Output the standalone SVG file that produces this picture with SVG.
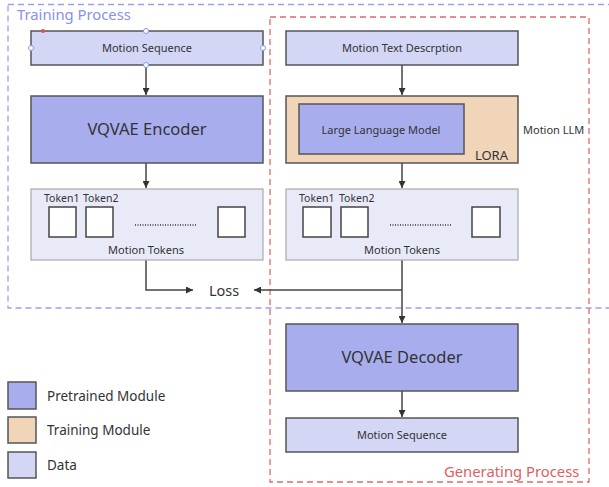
<svg xmlns="http://www.w3.org/2000/svg" width="609" height="487" viewBox="0 0 609 487">
<defs>
<marker id="ah" viewBox="0 0 10 10" refX="10" refY="5" markerWidth="7" markerHeight="7" orient="auto" markerUnits="userSpaceOnUse">
<path d="M0,0 L10,5 L0,10 z" fill="#333"/>
</marker>
<style>
text{font-family:"Noto Sans","Open Sans","DejaVu Sans",sans-serif;fill:#333;}
.data{fill:#d4d6f5;stroke:#555;stroke-width:1.5;}
.pre{fill:#a8aeed;stroke:#555;stroke-width:1.5;}
.train{fill:#f0d5b8;stroke:#555;stroke-width:1.5;}
.tok{fill:#e8eaf8;stroke:#aaa;stroke-width:1.2;}
.sq{fill:#fff;stroke:#444;stroke-width:1.5;}
.dots{stroke:#333;stroke-width:1.3;stroke-dasharray:1 1.5;}
.conn{stroke:#444;stroke-width:1.5;fill:none;}
.handle{fill:#fff;stroke:#7a9cf0;stroke-width:1;}
</style>
</defs>
<rect width="609" height="487" fill="#fff"/>
<g id="training-process">
<rect x="8" y="4.5" width="610" height="303.5" fill="none" stroke="#9a9ff2" stroke-width="1.3" stroke-dasharray="6 4"/>
<text x="17" y="20" font-size="14.8" style="fill:#8a90ee">Training Process</text>
</g>
<g id="generating-process">
<rect x="270" y="17" width="319" height="465" fill="none" stroke="#e06a6a" stroke-width="1.3" stroke-dasharray="6 4"/>
<text x="444" y="477" font-size="14.8" style="fill:#e06060">Generating Process</text>
</g>
<g id="connectors">
<line class="conn" x1="146" y1="65" x2="146" y2="95" marker-end="url(#ah)"/>
<line class="conn" x1="146" y1="163" x2="146" y2="188" marker-end="url(#ah)"/>
<polyline class="conn" points="146,260 146,290 193,290" marker-end="url(#ah)"/>
<line class="conn" x1="402" y1="65" x2="402" y2="95" marker-end="url(#ah)"/>
<line class="conn" x1="402" y1="163" x2="402" y2="188" marker-end="url(#ah)"/>
<line class="conn" x1="402" y1="260" x2="402" y2="323" marker-end="url(#ah)"/>
<line class="conn" x1="402" y1="290" x2="254" y2="290" marker-end="url(#ah)"/>
<line class="conn" x1="402" y1="391" x2="402" y2="417" marker-end="url(#ah)"/>
</g>
<g id="motion-sequence-in">
<rect class="data" x="31" y="31" width="232" height="34"/>
<text x="147" y="52" font-size="11" text-anchor="middle">Motion Sequence</text>
<circle class="handle" cx="146" cy="31" r="2.5"/>
<circle class="handle" cx="31" cy="48" r="2.5"/>
<circle class="handle" cx="263" cy="48" r="2.5"/>
<circle class="handle" cx="146" cy="65" r="2.5"/>
<circle cx="43" cy="31" r="2" fill="#e05050"/>
</g>
<g id="vqvae-encoder">
<rect class="pre" x="31" y="96" width="232" height="67"/>
<text x="147" y="135" font-size="16.5" text-anchor="middle">VQVAE Encoder</text>
</g>
<g id="motion-tokens-left">
<rect class="tok" x="31" y="189" width="232" height="71"/>
<text x="44" y="202" font-size="10.5">Token1</text>
<text x="83" y="202" font-size="10.5">Token2</text>
<rect class="sq" x="49" y="207" width="27" height="30"/>
<rect class="sq" x="86" y="207" width="27" height="30"/>
<rect class="sq" x="218" y="207" width="27" height="30"/>
<line class="dots" x1="135" y1="225" x2="196" y2="225"/>
<text x="146" y="254" font-size="11" text-anchor="middle">Motion Tokens</text>
</g>
<g id="loss">
<text x="209" y="296" font-size="14.5">Loss</text>
</g>
<g id="motion-text">
<rect class="data" x="286" y="31" width="232" height="34"/>
<text x="402" y="52" font-size="11" text-anchor="middle">Motion Text Descrption</text>
</g>
<g id="motion-llm">
<rect class="train" x="286" y="96" width="232" height="67"/>
<rect class="pre" x="299" y="104" width="165" height="50"/>
<text x="381" y="134" font-size="11" text-anchor="middle">Large Language Model</text>
<text x="508" y="160" font-size="13" text-anchor="end">LORA</text>
<text x="523" y="134" font-size="11">Motion LLM</text>
</g>
<g id="motion-tokens-right">
<rect class="tok" x="286" y="189" width="232" height="71"/>
<text x="299" y="202" font-size="10.5">Token1</text>
<text x="339" y="202" font-size="10.5">Token2</text>
<rect class="sq" x="303" y="207" width="28" height="30"/>
<rect class="sq" x="341" y="207" width="27" height="30"/>
<rect class="sq" x="472" y="207" width="28" height="30"/>
<line class="dots" x1="390" y1="225" x2="451" y2="225"/>
<text x="402" y="254" font-size="11" text-anchor="middle">Motion Tokens</text>
</g>
<g id="vqvae-decoder">
<rect class="pre" x="286" y="324" width="232" height="67"/>
<text x="402" y="363" font-size="16.5" text-anchor="middle">VQVAE Decoder</text>
</g>
<g id="motion-sequence-out">
<rect class="data" x="286" y="418" width="232" height="34"/>
<text x="402" y="439" font-size="11" text-anchor="middle">Motion Sequence</text>
</g>
<g id="legend">
<rect class="pre" x="8" y="382" width="28" height="27"/>
<text x="47" y="401" font-size="13.5">Pretrained Module</text>
<rect class="train" x="8" y="417" width="28" height="26"/>
<text x="47" y="435" font-size="13.5">Training Module</text>
<rect class="data" x="8" y="452" width="28" height="26"/>
<text x="47" y="470" font-size="13.5">Data</text>
</g>
</svg>
